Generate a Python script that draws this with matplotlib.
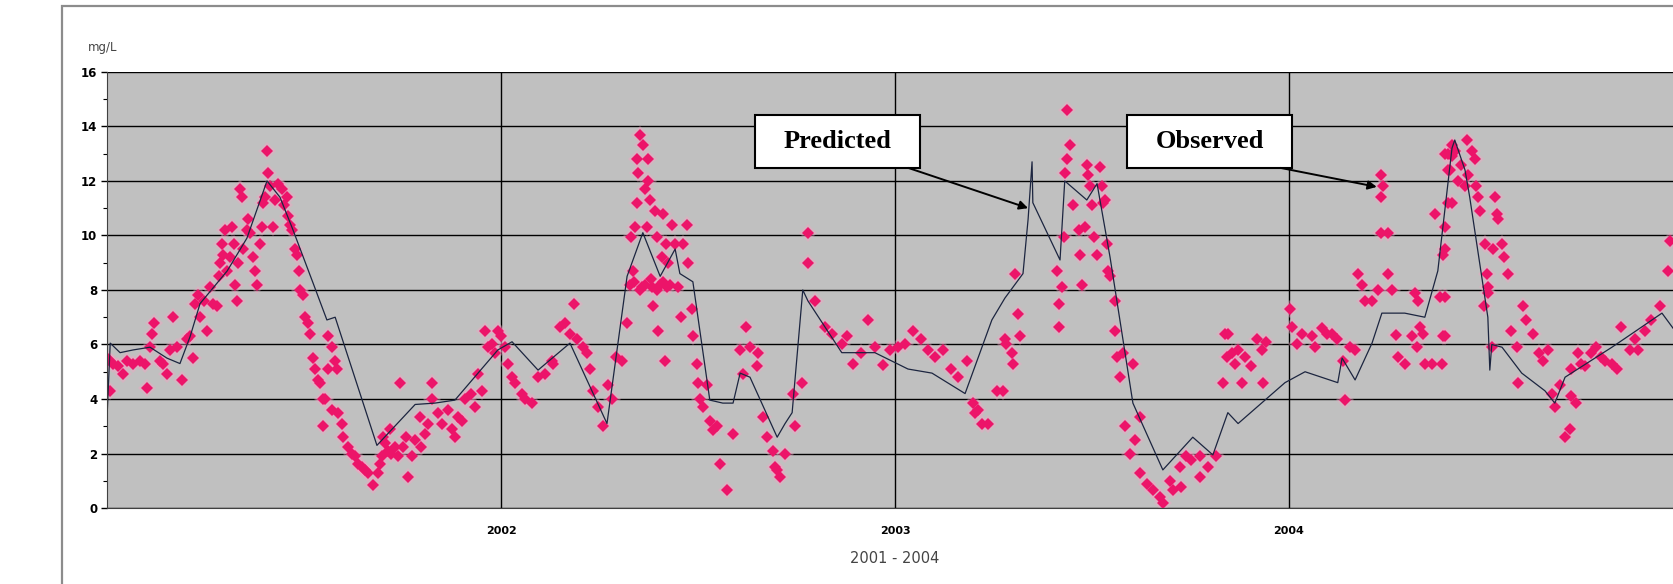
import matplotlib
matplotlib.use('Agg')
import matplotlib.pyplot as plt
from matplotlib.patches import Rectangle
from matplotlib.ticker import MultipleLocator

# Model output (decimal year, mg/L)
pred_year = [2001.000, 2001.008, 2001.033, 2001.066, 2001.109, 2001.152, 2001.185, 2001.211,
             2001.236, 2001.305, 2001.355, 2001.406, 2001.439, 2001.472, 2001.523, 2001.558,
             2001.579, 2001.685, 2001.782, 2001.832, 2001.883, 2001.992, 2002.028, 2002.094,
             2002.175, 2002.269, 2002.320, 2002.360, 2002.404, 2002.442, 2002.454, 2002.487,
             2002.530, 2002.563, 2002.589, 2002.607, 2002.632, 2002.701, 2002.721, 2002.739,
             2002.766, 2002.779, 2002.865, 2002.949, 2003.033, 2003.094, 2003.178, 2003.246,
             2003.279, 2003.325, 2003.338, 2003.348, 2003.350, 2003.419, 2003.431, 2003.487,
             2003.513, 2003.546, 2003.604, 2003.680, 2003.756, 2003.807, 2003.845, 2003.871,
             2003.990, 2004.041, 2004.124, 2004.135, 2004.168, 2004.211, 2004.236, 2004.294,
             2004.345, 2004.378, 2004.414, 2004.421, 2004.447, 2004.459, 2004.505, 2004.510,
             2004.515, 2004.541, 2004.591, 2004.650, 2004.675, 2004.701, 2004.820, 2004.871,
             2004.947, 2004.975]
pred_mgl = [3.35, 6.05, 5.7, 5.8, 5.9, 5.5, 5.3, 6.3,
            7.5, 8.7, 9.9, 12.0, 11.4, 10.2, 8.25, 6.9,
            7.0, 2.3, 3.8, 3.85, 3.96, 5.8, 6.1, 5.06,
            6.05, 3.1, 8.5, 10.1, 8.5, 9.5, 8.6, 8.3,
            3.96, 3.85, 3.85, 4.95, 4.8, 2.6, 3.1, 3.5,
            8.0, 7.6, 5.7, 5.7, 5.1, 4.95, 4.2, 6.9,
            7.7, 8.6, 10.6, 12.7, 11.2, 9.1, 12.0, 11.3,
            11.9, 9.2, 3.85, 1.4, 2.6, 1.95, 3.5, 3.1,
            4.6, 5.0, 4.6, 5.5, 4.7, 6.05, 7.15, 7.15,
            7.0, 8.7, 13.2, 13.5, 12.4, 11.4, 7.0, 5.06,
            6.0, 5.9, 4.95, 4.3, 3.85, 4.8, 5.9, 6.4,
            7.15, 6.6]

# Field samples (decimal year, mg/L)
obs_year = [
    2001.000, 2001.008, 2001.016, 2001.029, 2001.041, 2001.050, 2001.067, 2001.084, 2001.096, 2001.008,
    2001.101, 2001.109, 2001.113, 2001.118, 2001.135, 2001.143, 2001.151, 2001.160, 2001.168, 2001.177,
    2001.190, 2001.202, 2001.211, 2001.219, 2001.223, 2001.232, 2001.236, 2001.245, 2001.253, 2001.261,
    2001.270, 2001.278, 2001.283, 2001.287, 2001.291, 2001.295, 2001.300, 2001.304, 2001.312, 2001.316,
    2001.321, 2001.325, 2001.329, 2001.333, 2001.338, 2001.342, 2001.346, 2001.354, 2001.359, 2001.363,
    2001.371, 2001.376, 2001.380, 2001.388, 2001.393, 2001.397, 2001.401, 2001.405, 2001.409, 2001.414,
    2001.422, 2001.426, 2001.435, 2001.443, 2001.448, 2001.456, 2001.460, 2001.464, 2001.469, 2001.477,
    2001.481, 2001.486, 2001.490, 2001.498, 2001.503, 2001.511, 2001.515, 2001.524, 2001.528, 2001.536,
    2001.541, 2001.549, 2001.547, 2001.562,
    2001.570, 2001.578, 2001.562, 2001.583, 2001.553, 2001.570, 2001.587, 2001.596, 2001.600, 2001.612,
    2001.621, 2001.630, 2001.638, 2001.646, 2001.655, 2001.663, 2001.676, 2001.689, 2001.693, 2001.697,
    2001.701, 2001.706, 2001.714, 2001.718, 2001.722, 2001.731, 2001.739, 2001.743, 2001.752, 2001.760,
    2001.765, 2001.773, 2001.781, 2001.794, 2001.798, 2001.807, 2001.815, 2001.824, 2001.824, 2001.841,
    2001.849, 2001.866, 2001.875, 2001.883, 2001.891, 2001.900, 2001.908, 2001.925, 2001.934, 2001.942,
    2001.951, 2001.959, 2001.968, 2001.976, 2001.985, 2001.993,
    2002.001, 2002.010, 2002.018, 2002.027, 2002.035, 2002.052, 2002.061, 2002.078, 2002.095, 2002.112,
    2002.129, 2002.133, 2002.150, 2002.162, 2002.175, 2002.184, 2002.192, 2002.209, 2002.217, 2002.226,
    2002.234, 2002.247, 2002.260, 2002.272, 2002.281, 2002.293, 2002.306, 2002.319, 2002.327, 2002.331,
    2002.336, 2002.340, 2002.344, 2002.348, 2002.353, 2002.357, 2002.361, 2002.365, 2002.370, 2002.374,
    2002.378, 2002.382, 2002.386, 2002.391, 2002.395, 2002.399, 2002.403, 2002.408, 2002.412, 2002.416,
    2002.420, 2002.425, 2002.429, 2002.433, 2002.441, 2002.450, 2002.458, 2002.463, 2002.471, 2002.475,
    2002.484, 2002.488, 2002.497, 2002.501, 2002.505, 2002.513, 2002.522, 2002.530, 2002.539, 2002.547,
    2002.556, 2002.573, 2002.590, 2002.607, 2002.615, 2002.623, 2002.632, 2002.649, 2002.653, 2002.666,
    2002.674, 2002.691, 2002.700, 2002.695, 2002.708, 2002.721, 2002.746, 2002.742, 2002.763, 2002.780,
    2002.780, 2002.797, 2002.822, 2002.839, 2002.865, 2002.877, 2002.894, 2002.915, 2002.932, 2002.949,
    2002.970, 2002.987,
    2002.338, 2002.352, 2002.366, 2002.380, 2002.395, 2002.410, 2002.422, 2002.345, 2002.372,
    2003.008, 2003.025, 2003.047, 2003.067, 2003.084, 2003.101, 2003.122, 2003.143, 2003.161, 2003.182,
    2003.199, 2003.203, 2003.212, 2003.220, 2003.237, 2003.258, 2003.279, 2003.275, 2003.283, 2003.296,
    2003.300, 2003.305, 2003.313, 2003.317, 2003.436, 2003.444, 2003.436, 2003.432, 2003.428, 2003.411,
    2003.424, 2003.416, 2003.416, 2003.453, 2003.466, 2003.470, 2003.474, 2003.483, 2003.487, 2003.491,
    2003.495, 2003.499, 2003.504, 2003.512, 2003.521, 2003.525, 2003.529, 2003.533, 2003.538, 2003.542,
    2003.546, 2003.559, 2003.559, 2003.563, 2003.580, 2003.571, 2003.605, 2003.584, 2003.609, 2003.622,
    2003.596, 2003.622, 2003.639, 2003.656, 2003.673, 2003.681, 2003.698, 2003.706, 2003.723, 2003.727,
    2003.740, 2003.752, 2003.774, 2003.774, 2003.795, 2003.816, 2003.833, 2003.838, 2003.842, 2003.846,
    2003.855, 2003.863, 2003.871, 2003.880, 2003.888, 2003.905, 2003.918, 2003.931, 2003.935, 2003.943,
    2004.003, 2004.008, 2004.020, 2004.033, 2004.058, 2004.066, 2004.083, 2004.096, 2004.109, 2004.121,
    2004.138, 2004.143, 2004.155, 2004.168, 2004.176, 2004.185, 2004.193, 2004.210, 2004.227, 2004.235,
    2004.239, 2004.235, 2004.235, 2004.252, 2004.252, 2004.261, 2004.273, 2004.278, 2004.295, 2004.312,
    2004.320, 2004.324, 2004.328, 2004.333, 2004.341, 2004.345, 2004.362, 2004.370, 2004.383, 2004.388,
    2004.392, 2004.392, 2004.396, 2004.404, 2004.409, 2004.413, 2004.413, 2004.396, 2004.404, 2004.413,
    2004.421, 2004.430, 2004.438, 2004.447, 2004.451, 2004.455, 2004.464, 2004.472, 2004.481, 2004.485,
    2004.476, 2004.404, 2004.523, 2004.527, 2004.531, 2004.498, 2004.519, 2004.540, 2004.545, 2004.557,
    2004.502, 2004.506, 2004.494, 2004.506, 2004.515, 2004.396, 2004.396, 2004.396, 2004.595, 2004.603,
    2004.565, 2004.620, 2004.578, 2004.582, 2004.636, 2004.645, 2004.658, 2004.667, 2004.675, 2004.688,
    2004.700, 2004.713, 2004.717, 2004.730, 2004.717, 2004.734, 2004.742, 2004.751, 2004.768, 2004.780,
    2004.793, 2004.802, 2004.819, 2004.832, 2004.844, 2004.865, 2004.878, 2004.886, 2004.903, 2004.920,
    2004.941, 2004.963, 2004.967,
]
obs_mgl = [
    5.5, 5.4, 5.3, 5.2, 4.9, 5.4, 5.3, 5.4, 5.3, 4.3,
    4.4, 5.9, 6.4, 6.8, 5.4, 5.3, 4.9, 5.8, 7.0, 5.9,
    4.7, 6.2, 6.3, 5.5, 7.5, 7.8, 7.0, 7.6, 6.5, 8.1,
    7.5, 7.4, 8.5, 9.0, 9.7, 9.3, 10.2, 8.7, 9.2, 10.3,
    9.7, 8.2, 7.6, 9.0, 11.7, 11.4, 9.5, 10.2, 10.6, 10.1,
    9.2, 8.7, 8.2, 9.7, 10.3, 11.2, 11.4, 13.1, 12.3, 11.8,
    10.3, 11.3, 11.9, 11.7, 11.1, 11.4, 10.7, 10.4, 10.2, 9.5,
    9.3, 8.7, 8.0, 7.8, 7.0, 6.8, 6.4, 5.5, 5.1, 4.7,
    4.6, 4.0, 3.0, 6.3,
    5.9, 5.4, 5.1, 5.1, 4.0, 3.6, 3.5, 3.1, 2.6, 2.25,
    2.0, 1.9, 1.6, 1.5, 1.4, 1.3, 0.85, 1.3, 1.6, 1.9,
    2.6, 2.4, 2.1, 2.9, 2.0, 2.25, 1.9, 4.6, 2.25, 2.6,
    1.15, 1.9, 2.5, 3.35, 2.25, 2.7, 3.1, 4.6, 4.0, 3.5,
    3.1, 3.6, 2.9, 2.6, 3.35, 3.2, 4.0, 4.2, 3.7, 4.9,
    4.3, 6.5, 5.9, 6.0, 5.7, 6.5,
    6.3, 5.9, 5.3, 4.8, 4.6, 4.2, 4.0, 3.85, 4.8, 4.9,
    5.4, 5.3, 6.65, 6.8, 6.4, 7.5, 6.2, 5.9, 5.7, 5.1,
    4.3, 3.7, 3.0, 4.5, 4.0, 5.55, 5.4, 6.8, 8.2, 9.95,
    8.7, 10.3, 12.8, 12.3, 13.7, 8.1, 13.3, 11.7, 10.3, 12.8,
    11.3, 8.1, 7.4, 10.9, 9.95, 6.5, 8.2, 9.2, 10.8, 5.4,
    9.7, 9.0, 8.2, 10.4, 9.7, 8.1, 7.0, 9.7, 10.4, 9.0,
    7.3, 6.3, 5.3, 4.6, 4.0, 3.7, 4.5, 3.2, 2.85, 3.0,
    1.6, 0.66, 2.7, 5.8, 4.9, 6.65, 5.9, 5.2, 5.7, 3.35,
    2.6, 2.1, 1.4, 1.5, 1.15, 2.0, 3.0, 4.2, 4.6, 10.1,
    9.0, 7.6, 6.65, 6.4, 6.0, 6.3, 5.3, 5.7, 6.9, 5.9,
    5.25, 5.8,
    8.3, 8.0, 8.2, 8.4, 8.0, 8.3, 8.1, 11.2, 12.0,
    5.9, 6.0, 6.5, 6.2, 5.8, 5.55, 5.8, 5.1, 4.8, 5.4,
    3.85, 3.5, 3.6, 3.1, 3.1, 4.3, 6.2, 4.3, 6.0, 5.7,
    5.3, 8.6, 7.1, 6.3, 14.6, 13.3, 12.8, 12.3, 9.95, 8.7,
    8.1, 7.5, 6.65, 11.1, 10.2, 9.3, 8.2, 10.3, 12.6, 12.2,
    11.8, 11.1, 9.95, 9.3, 12.5, 11.8, 11.2, 11.3, 9.7, 8.7,
    8.5, 7.6, 6.5, 5.55, 5.7, 4.8, 5.3, 3.0, 2.5, 3.35,
    2.0, 1.3, 0.9, 0.66, 0.4, 0.17, 1.0, 0.66, 1.5, 0.78,
    1.9, 1.75, 1.15, 1.9, 1.5, 1.9, 4.6, 6.4, 5.55, 6.4,
    5.7, 5.3, 5.8, 4.6, 5.55, 5.2, 6.2, 5.8, 4.6, 6.1,
    7.3, 6.65, 6.0, 6.4, 6.3, 5.9, 6.6, 6.4, 6.4, 6.2,
    5.4, 3.96, 5.9, 5.8, 8.6, 8.2, 7.6, 7.6, 8.0, 12.2,
    11.8, 11.4, 10.1, 10.1, 8.6, 8.0, 6.35, 5.55, 5.3, 6.3,
    7.9, 5.9, 7.6, 6.65, 6.4, 5.3, 5.3, 10.8, 7.75, 5.3,
    6.3, 9.3, 10.3, 13.0, 12.4, 13.3, 11.2, 13.0, 12.4, 12.9,
    13.1, 12.0, 12.6, 11.8, 13.5, 12.2, 13.1, 12.8, 11.4, 10.9,
    11.8, 11.2, 11.4, 10.8, 10.6, 9.7, 9.5, 9.7, 9.2, 8.6,
    8.6, 8.1, 7.4, 7.9, 5.9, 9.5, 7.75, 6.3, 7.4, 6.9,
    6.5, 6.4, 5.9, 4.6, 5.7, 5.4, 5.8, 4.2, 3.7, 4.5,
    2.6, 2.9, 4.1, 3.85, 5.1, 5.7, 5.3, 5.2, 5.7, 5.9,
    5.55, 5.4, 5.3, 5.1, 6.65, 5.8, 6.2, 5.8, 6.5, 6.9,
    7.4, 8.7, 9.8,
]

year_ticks = [2002, 2003, 2004]
year_labels = ['2002', '2003', '2004']

fig = plt.figure(figsize=(16.73, 5.84), dpi=100)
ax = fig.add_axes([0.064, 0.130, 0.936, 0.747])

# outer chart frame
fig.patches.append(Rectangle((0.037, -0.1), 1.2, 1.09, transform=fig.transFigure,
                             fill=False, edgecolor='#8c8c8c', linewidth=1.6))

ax.set_facecolor('#c0c0c0')
ax.set_xlim(2001.0, 2004.975)
ax.set_ylim(0, 16)

ax.set_xticks(year_ticks)
ax.set_xticklabels(year_labels, fontsize=8, fontweight='bold')
ax.tick_params(axis='x', length=0, pad=13)
ax.yaxis.set_major_locator(MultipleLocator(2))
ax.yaxis.set_minor_locator(MultipleLocator(1))
ax.tick_params(axis='y', which='major', length=4, width=1, labelsize=8.5, pad=3)
ax.tick_params(axis='y', which='minor', length=3, width=0.8)
for lbl in ax.get_yticklabels():
    lbl.set_fontweight('bold')

ax.grid(True, which='major', color='black', linewidth=1.0)
ax.set_axisbelow(True)
for side in ['top', 'right']:
    ax.spines[side].set_visible(False)
ax.spines['left'].set_color('#404040')
ax.spines['bottom'].set_color('#404040')

# observed samples with a soft halo, then the model line
ax.plot(obs_year, obs_mgl, linestyle='none', marker='D', markersize=9.5,
        color='#f6a2c4', alpha=0.4, markeredgewidth=0)
ax.plot(obs_year, obs_mgl, linestyle='none', marker='D', markersize=6.5,
        color='#ec1469', markeredgewidth=0)
ax.plot(pred_year, pred_mgl, color='#1c2540', linewidth=0.9)

# callout boxes
for cx, label, tip in [(2002.854, 'Predicted', (2003.338, 11.0)),
                       (2003.799, 'Observed', (2004.223, 11.78))]:
    w, h = 0.419, 1.945
    ax.add_patch(Rectangle((cx - w / 2, 13.45 - h / 2), w, h, facecolor='white',
                           edgecolor='black', linewidth=1.5, zorder=5))
    ax.text(cx, 13.45, label, ha='center', va='center', fontsize=19, fontweight='bold',
            family='Liberation Serif', zorder=6)
    ax.annotate('', xy=tip, xytext=(cx + w / 2 - 0.03, 13.45 - h / 2),
                arrowprops=dict(arrowstyle='-|>', color='black', lw=1.4,
                                mutation_scale=13, shrinkA=0, shrinkB=0), zorder=6)

fig.text(0.0526, 0.918, 'mg/L', fontsize=8.5, color='#444444', ha='left', va='center')
fig.text(0.535, 0.0445, '2001 - 2004', fontsize=10.5, color='#444444', ha='center', va='center')

fig.savefig('out.png', dpi=100)
